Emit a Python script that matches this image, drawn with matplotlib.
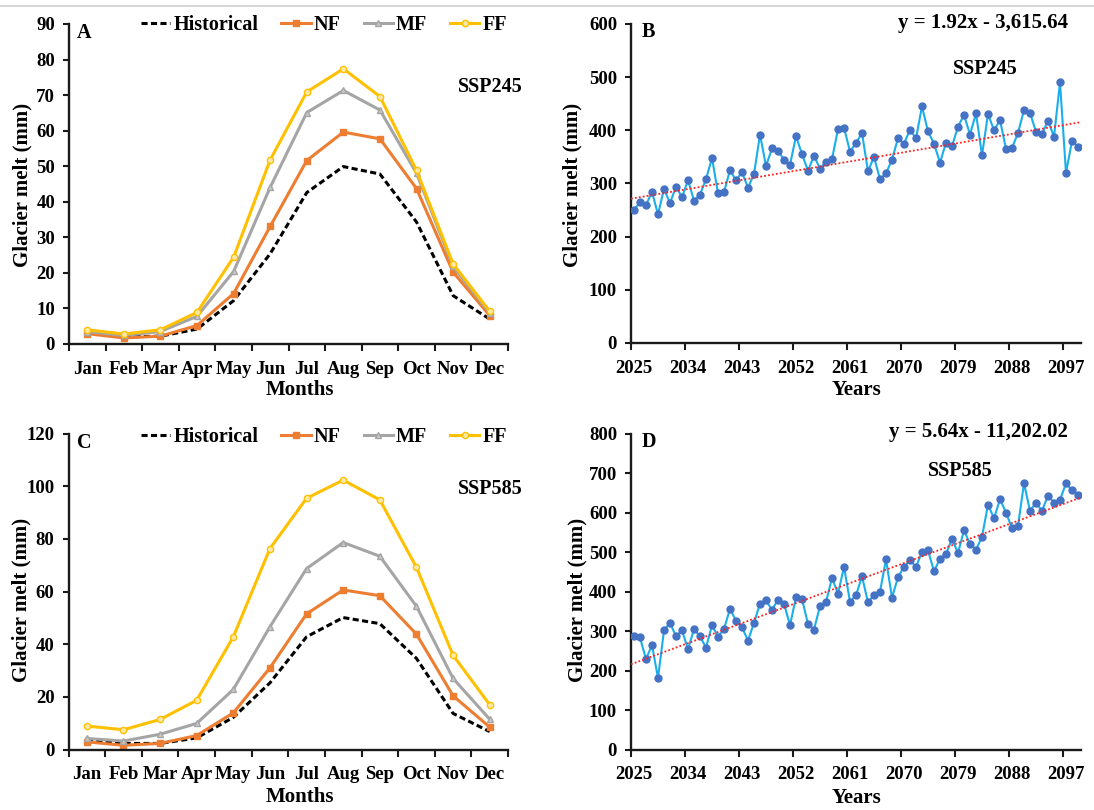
import numpy as np
import matplotlib
matplotlib.use("Agg")
import matplotlib.pyplot as plt
from matplotlib.lines import Line2D

plt.rcParams['font.family'] = ['Liberation Serif', 'DejaVu Serif']
plt.rcParams['font.weight'] = 'bold'
plt.rcParams['axes.labelweight'] = 'bold'

# ---------------- data ----------------
months = ["Jan", "Feb", "Mar", "Apr", "May", "Jun", "Jul", "Aug", "Sep", "Oct", "Nov", "Dec"]

hist_245 = [3.1, 2.0, 2.2, 4.2, 12.2, 25.4, 42.6, 49.9, 47.8, 34.3, 13.6, 7.0]
nf_245 = [2.9, 1.7, 2.2, 5.2, 14.2, 33.1, 51.6, 59.6, 57.7, 43.7, 20.2, 8.0]
mf_245 = [3.5, 2.4, 3.5, 7.8, 20.4, 44.1, 65.1, 71.3, 65.8, 48.0, 21.8, 8.7]
ff_245 = [4.0, 2.8, 4.0, 8.9, 24.4, 51.8, 70.9, 77.4, 69.6, 48.8, 22.5, 9.2]

hist_585 = [3.5, 2.3, 2.3, 4.4, 12.2, 25.3, 42.8, 50.1, 47.8, 34.6, 13.7, 6.8]
nf_585 = [2.9, 1.6, 2.3, 5.3, 13.9, 31.0, 51.5, 60.6, 58.4, 43.8, 20.4, 8.5]
mf_585 = [4.2, 3.2, 5.8, 9.9, 22.8, 46.6, 68.7, 78.6, 73.4, 54.4, 27.0, 11.5]
ff_585 = [8.9, 7.5, 11.4, 18.7, 42.8, 76.3, 95.4, 102.3, 94.8, 69.2, 35.8, 17.0]

years = list(range(2025, 2100))

annual_245 = [250, 265, 260, 284, 242, 290, 263, 294, 274, 306,
              268, 279, 308, 348, 282, 284, 325, 306, 321, 292,
              318, 392, 333, 366, 362, 344, 335, 389, 355, 324,
              352, 328, 341, 346, 402, 405, 360, 376, 395, 323,
              350, 308, 319, 345, 385, 375, 401, 385, 445, 398,
              375, 339, 377, 370, 407, 429, 392, 432, 353, 431,
              400, 419, 365, 367, 395, 438, 433, 397, 393, 418,
              388, 490, 320, 380, 369]

annual_585 = [287, 284, 229, 265, 181, 302, 321, 287, 302, 254,
              305, 287, 258, 315, 286, 305, 357, 326, 310, 276,
              321, 370, 378, 354, 380, 370, 315, 386, 382, 318,
              304, 364, 374, 435, 395, 463, 375, 391, 439, 373,
              392, 400, 482, 385, 437, 463, 480, 463, 501, 505,
              452, 484, 496, 534, 498, 556, 521, 507, 539, 621,
              586, 635, 600, 562, 567, 675, 605, 626, 605, 644,
              626, 633, 675, 657, 646]

# trend equations printed on the panels: y = slope * year + intercept
trend_245 = (1.92, -3615.64)
trend_585 = (5.64, -11202.02)

year_ticks = list(range(2025, 2100, 9))

# ---------------- layout helpers ----------------
W, H = 1094, 810
fig = plt.figure(figsize=(W / 100, H / 100), dpi=100)


def fx(x):
    return x / W


def fy(y):
    return 1 - y / H


def add_axes_px(left, top, right, bottom):
    return fig.add_axes([fx(left), fy(bottom), (right - left) / W, (bottom - top) / H])


c_nf = "#ED7D31"
c_mf = "#A5A5A5"
c_ff = "#FFC000"
c_line = "#1AAEEB"
c_dot = "#4472C4"

TICK_FS = 13.5
LABEL_FS = 15


def style_axes(ax):
    for s in ["top", "right"]:
        ax.spines[s].set_visible(False)
    for s in ["left", "bottom"]:
        ax.spines[s].set_linewidth(1.7)
        ax.spines[s].set_color("#1a1a1a")
    ax.tick_params(axis="y", which="major", direction="out", length=4, width=1.5,
                   labelsize=TICK_FS, pad=6, color="#1a1a1a")
    ax.tick_params(axis="x", which="major", length=0, labelsize=TICK_FS, pad=12)
    ax.tick_params(axis="x", which="minor", direction="out", length=5, width=1.5,
                   color="#1a1a1a")


def monthly_panel(ax, hist, nf, mf, ff, ymax, ystep):
    x = np.arange(1, 13)
    ax.plot(x, hist, color="black", lw=2.2, dashes=(2.0, 1.1), label="Historical")
    ax.plot(x, nf, color=c_nf, lw=2.2, marker="s", ms=5, mfc=c_nf, mec=c_nf, label="NF")
    ax.plot(x, mf, color=c_mf, lw=2.2, marker="^", ms=4.5, mfc="#C8C8C8", mec=c_mf, label="MF")
    ax.plot(x, ff, color=c_ff, lw=2.2, marker="o", ms=4.5, mfc="#FFE9A8", mec=c_ff, mew=1.0, label="FF")
    ax.set_xlim(0.5, 12.5)
    ax.set_ylim(0, ymax)
    ax.set_yticks(np.arange(0, ymax + 1, ystep))
    ax.set_xticks(x)
    ax.set_xticklabels(months)
    ax.set_xticks(np.arange(0.5, 13, 1), minor=True)
    style_axes(ax)
    ax.set_xlabel("Months", fontsize=LABEL_FS)
    ax.set_ylabel("Glacier melt (mm)", fontsize=LABEL_FS)


def annual_panel(ax, values, trend, ymax, ystep):
    ax.plot(years, values, color=c_line, lw=1.5, marker="o", ms=5, mfc=c_dot, mec=c_dot, zorder=3)
    tx = np.array([years[0] - 0.5, years[-1] + 0.5])
    ax.plot(tx, trend[0] * tx + trend[1], color="#FF2020", lw=1.3, ls=(0, (1, 1.2)), zorder=4)
    ax.set_xlim(years[0] - 0.5, years[-1] + 0.5)
    ax.set_ylim(0, ymax)
    ax.set_yticks(np.arange(0, ymax + 1, ystep))
    ax.set_xticks(year_ticks)
    ax.set_xticklabels([str(y) for y in year_ticks])
    ax.set_xticks([y - 0.5 for y in year_ticks], minor=True)
    style_axes(ax)
    ax.set_xlabel("Years", fontsize=LABEL_FS)
    ax.set_ylabel("Glacier melt (mm)", fontsize=LABEL_FS)


def place_labels(ax, xl, yl):
    ax.xaxis.set_label_coords(fx(xl[0]), fy(xl[1]), transform=fig.transFigure)
    ax.xaxis.label.set_verticalalignment("center")
    ax.yaxis.set_label_coords(fx(yl[0]), fy(yl[1]), transform=fig.transFigure)
    ax.yaxis.label.set_verticalalignment("center")


# ---------------- panels ----------------
axA = add_axes_px(69, 24, 508, 344)
monthly_panel(axA, hist_245, nf_245, mf_245, ff_245, 90, 10)
place_labels(axA, (300, 390), (22, 185))

axB = add_axes_px(631, 24, 1081, 343)
annual_panel(axB, annual_245, trend_245, 600, 100)
place_labels(axB, (856, 390), (572, 185))

axC = add_axes_px(68.5, 433.5, 508, 749.5)
monthly_panel(axC, hist_585, nf_585, mf_585, ff_585, 120, 20)
place_labels(axC, (300, 797), (21, 600))

axD = add_axes_px(631, 434, 1081, 749.5)
annual_panel(axD, annual_585, trend_585, 800, 100)
place_labels(axD, (856, 798), (577, 600))

# legends
for ax, cy in [(axA, 25), (axC, 437)]:
    ax.legend(loc="center", bbox_to_anchor=(fx(324), fy(cy)), bbox_transform=fig.transFigure,
              ncol=4, frameon=False, fontsize=14.5, handlelength=1.45, handletextpad=0.15,
              columnspacing=1.15, borderpad=0, borderaxespad=0)

# panel letters and annotations
TXT = dict(fontsize=14.5, fontweight="bold")
fig.text(fx(77), fy(33), "A", ha="left", va="center", **TXT)
fig.text(fx(642), fy(32), "B", ha="left", va="center", **TXT)
fig.text(fx(77), fy(443), "C", ha="left", va="center", **TXT)
fig.text(fx(642), fy(442), "D", ha="left", va="center", **TXT)

fig.text(fx(458), fy(87), "SSP245", ha="left", va="center", **TXT)
fig.text(fx(458), fy(489), "SSP585", ha="left", va="center", **TXT)
fig.text(fx(953), fy(69), "SSP245", ha="left", va="center", **TXT)
fig.text(fx(928), fy(471), "SSP585", ha="left", va="center", **TXT)

fig.text(fx(1068), fy(23), "y = 1.92x - 3,615.64", ha="right", va="center", fontsize=15, fontweight="bold")
fig.text(fx(1068), fy(432), "y = 5.64x - 11,202.02", ha="right", va="center", fontsize=15, fontweight="bold")

# thin rule along the top edge
fig.add_artist(Line2D([0, 1], [fy(6), fy(6)], transform=fig.transFigure, color="#D0D0D0", lw=1.2))

fig.savefig("out.png", dpi=100)
